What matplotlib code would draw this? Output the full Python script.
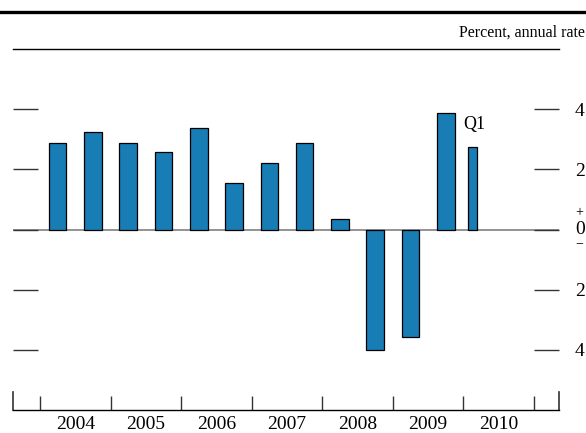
import matplotlib
matplotlib.use("Agg")
import matplotlib.pyplot as plt
from matplotlib.lines import Line2D

plt.rcParams['font.family'] = ['Liberation Serif', 'DejaVu Serif']

# half-year growth, percent annual rate
half_pos = [2004.25, 2004.75, 2005.25, 2005.75, 2006.25, 2006.75, 2007.25, 2007.75,
            2008.25, 2008.75, 2009.25, 2009.75]
half_vals = [2.87, 3.25, 2.89, 2.59, 3.37, 1.53, 2.21, 2.87, 0.36, -4.0, -3.59, 3.88]
q1_pos = [2010.125]
q1_vals = [2.74]
years = [2004, 2005, 2006, 2007, 2008, 2009, 2010]
ytick_vals = [4, 2, 0, -2, -4]
ytick_labels = ['4', '2', '', '2', '4']

bar_color = '#187db4'

fig = plt.figure(figsize=(5.86, 4.33), dpi=100)
ax = fig.add_axes([13/586, 1 - 410/433, 546/586, 361/433])

ax.axhline(0, color='#808080', lw=1.2, zorder=1)
ax.bar(half_pos, half_vals, width=0.25, color=bar_color, edgecolor='black', lw=0.9, zorder=3)
ax.bar(q1_pos, q1_vals, width=0.125, color=bar_color, edgecolor='black', lw=0.9, zorder=3)

ax.set_xlim(2003.617, 2011.354)
ax.set_ylim(-6, 6)

for s in ['left', 'right']:
    ax.spines[s].set_visible(False)
ax.spines['top'].set_linewidth(1.0)
ax.spines['bottom'].set_linewidth(1.0)

# y ticks on both sides, labels on the right
ax.set_yticks(ytick_vals)
ax.set_yticklabels(ytick_labels)
ax.tick_params(axis='y', which='both', left=True, right=True, labelleft=False, labelright=True,
               direction='in', length=18, width=1.0, color='#333333', pad=11.5, labelsize=14)

# zero label with +/- signs
ax.annotate('0', xy=(1, 0), xycoords=('axes fraction', 'data'), xytext=(11.5, 0),
            textcoords='offset points', ha='left', va='center', fontsize=14)
ax.annotate('+', xy=(1, 0), xycoords=('axes fraction', 'data'), xytext=(11.5, 12.5),
            textcoords='offset points', ha='left', va='center', fontsize=10)
ax.annotate('\u2212', xy=(1, 0), xycoords=('axes fraction', 'data'), xytext=(11.5, -10.5),
            textcoords='offset points', ha='left', va='center', fontsize=10)

# x ticks: year boundaries, labels at mid-year
ax.set_xticks(years + [2011])
ax.set_xticklabels([])
ax.set_xticks([y + 0.5 for y in years], minor=True)
ax.set_xticklabels([str(y) for y in years], minor=True)
ax.tick_params(axis='x', which='major', direction='in', length=10, width=1.0, color='#333333')
ax.tick_params(axis='x', which='minor', length=0, pad=4, labelsize=14)

# edge marks at the bottom corners
ax.axvline(2003.617, ymin=0, ymax=18/361, color='#333333', lw=1.2, clip_on=False)
ax.axvline(2011.354, ymin=0, ymax=18/361, color='#333333', lw=1.2, clip_on=False)

ax.text(2010.0, 3.5, 'Q1', ha='left', va='center', fontsize=13)

fig.text(0.998, 1 - 33/433, 'Percent, annual rate', ha='right', va='center', fontsize=11.5)
fig.add_artist(Line2D([0, 1], [1 - 12/433, 1 - 12/433], transform=fig.transFigure,
                      color='black', lw=2.4))

fig.savefig('out.png', dpi=100)
